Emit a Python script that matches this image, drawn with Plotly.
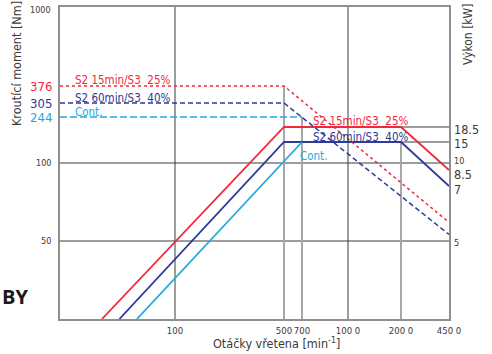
import numpy as np
import plotly.graph_objects as go

# ---------------- data ----------------
SERIES = ["S2 15min/S3  25%", "S2 60min/S3  40%", "Cont."]
TORQUE = [376, 305, 244]            # Nm, constant-torque level
BASE_SPEED = [500, 500, 700]        # min^-1, corner speed
POWER = [18.5, 15, 15]              # kW, constant-power level
RAMP_START_SPEED = [34, 44, 57]     # min^-1, where power ramp leaves the chart bottom
CP_END_SPEED = 2000                 # end of constant power (S2 curves)
MAX_SPEED = 4500
POWER_AT_MAX = [8.5, 7]             # kW at max speed (S2 curves)
TORQUE_AT_MAX = [59, 53]            # Nm at max speed (S2 curves, schematic)

SPEED_MIN = 18.3
TORQUE_MIN, TORQUE_MAX = 25, 1000
POWER_MIN, POWER_MAX = 2.5, 100

X_TICK_VALS = [100, 500, 700, 1000, 2000, 4500]
X_TICK_TEXT = ["100", "500", "700", "100 0", "200 0", "450 0"]
T_TICK_VALS = [50, 100, 244, 305, 376, 1000]
P_TICK_VALS = [5, 7, 8.5, 10, 15, 18.5]
P_TICK_TEXT = ["5", "7", "8.5", "10", "15", "18.5"]

# ------------- schematic scale of the drawing (chart units) -------------
X_TICK_POS = [175, 284, 302, 348, 401, 449]
T_TICK_POS = [241, 163, 117, 103, 86, 7]
P_TICK_POS = [241, 186, 170, 163, 142, 127]


def log_scale(vals, pos):
    lv = np.log10(np.asarray(vals, float))
    p = np.asarray(pos, float)
    s0 = (p[1] - p[0]) / (lv[1] - lv[0])
    s1 = (p[-1] - p[-2]) / (lv[-1] - lv[-2])

    def f(v):
        x = np.log10(np.asarray(v, float))
        out = np.interp(x, lv, p)
        out = np.where(x < lv[0], p[0] + s0 * (x - lv[0]), out)
        out = np.where(x > lv[-1], p[-1] + s1 * (x - lv[-1]), out)
        return out
    return f


sx = log_scale(X_TICK_VALS, X_TICK_POS)
st = log_scale(T_TICK_VALS, T_TICK_POS)
# power grid = torque grid / 10
sp = log_scale([POWER_MIN] + P_TICK_VALS + [POWER_MAX],
               [float(st(TORQUE_MIN))] + P_TICK_POS + [float(st(TORQUE_MAX))])

RED, BLUE, CYAN = "#f2283c", "#2d3a98", "#22a9e1"
COLORS = [RED, BLUE, CYAN]
DARK = "#3a3a3a"
GREY = "#a8a8a8"
FONT = "Liberation Sans Narrow, DejaVu Sans Condensed, Arial Narrow, sans-serif"

fig = go.Figure()

X0, X1 = float(sx(SPEED_MIN)), float(sx(MAX_SPEED))
Y0, Y1 = float(st(TORQUE_MIN)), float(st(TORQUE_MAX))

shapes = []
# dark grid lines
for t in [100, 50]:
    shapes.append(dict(type="line", x0=X0, x1=X1, y0=float(st(t)), y1=float(st(t)),
                       line=dict(color=DARK, width=1), layer="below"))
for n in [100, 1000]:
    shapes.append(dict(type="line", x0=float(sx(n)), x1=float(sx(n)), y0=Y0, y1=Y1,
                       line=dict(color=DARK, width=1), layer="below"))
for p in [POWER[0], POWER[1]]:
    shapes.append(dict(type="line", x0=float(sx(CP_END_SPEED)), x1=X1,
                       y0=float(sp(p)), y1=float(sp(p)),
                       line=dict(color=DARK, width=1), layer="below"))
# grey speed markers
for n, ytop in [(500, float(st(TORQUE[0]))), (700, float(st(TORQUE[2]))),
                (CP_END_SPEED, float(sp(POWER[1])))]:
    shapes.append(dict(type="line", x0=float(sx(n)), x1=float(sx(n)), y0=Y0, y1=ytop,
                       line=dict(color=GREY, width=2), layer="below"))

# power curves (solid)
pw_speeds = [
    [RAMP_START_SPEED[0], BASE_SPEED[0], CP_END_SPEED, MAX_SPEED],
    [RAMP_START_SPEED[1], BASE_SPEED[1], CP_END_SPEED, MAX_SPEED],
    [RAMP_START_SPEED[2], BASE_SPEED[2]],
]
pw_vals = [
    [POWER_MIN, POWER[0], POWER[0], POWER_AT_MAX[0]],
    [POWER_MIN, POWER[1], POWER[1], POWER_AT_MAX[1]],
    [POWER_MIN, POWER[2]],
]
for i in range(3):
    fig.add_trace(go.Scatter(x=sx(pw_speeds[i]), y=sp(pw_vals[i]), mode="lines",
                             line=dict(color=COLORS[i], width=1.8),
                             hoverinfo="skip", showlegend=False))

# torque curves (dashed)
tq_speeds = [
    [SPEED_MIN, BASE_SPEED[0], MAX_SPEED],
    [SPEED_MIN, BASE_SPEED[1], MAX_SPEED],
    [SPEED_MIN, BASE_SPEED[2]],
]
tq_vals = [
    [TORQUE[0], TORQUE[0], TORQUE_AT_MAX[0]],
    [TORQUE[1], TORQUE[1], TORQUE_AT_MAX[1]],
    [TORQUE[2], TORQUE[2]],
]
dashes = ["3px,3px", "5px,3px", "7px,3px"]
for i in range(3):
    fig.add_trace(go.Scatter(x=sx(tq_speeds[i]), y=st(tq_vals[i]), mode="lines",
                             line=dict(color=COLORS[i], width=1.5, dash=dashes[i]),
                             hoverinfo="skip", showlegend=False))

ann = []


def A(text, x, y, xref="x", yref="y", size=12, color=DARK, xanchor="left",
      yanchor="middle", xshift=0, yshift=0, angle=0, bold=False, family=FONT):
    ann.append(dict(text=("<b>%s</b>" % text) if bold else text, x=x, y=y,
                    xref=xref, yref=yref, showarrow=False,
                    font=dict(size=size, color=color, family=family),
                    xanchor=xanchor, yanchor=yanchor, xshift=xshift, yshift=yshift,
                    textangle=angle))


def nb(s):
    return s.replace(" ", "\u00a0")


LBL = 11.5
# series labels at left
shifts_left = [6, 5, 5]
for i in range(3):
    A(nb(SERIES[i]), 0, float(st(TORQUE[i])), xref="paper", size=LBL, color=COLORS[i],
      xshift=13, yshift=shifts_left[i])
# series labels at right
A(nb(SERIES[0]), float(sx(700)), float(sp(POWER[0])), size=LBL, color=RED, xshift=9, yshift=6)
A(nb(SERIES[1]), float(sx(700)), float(sp(POWER[1])), size=LBL, color=BLUE, xshift=9, yshift=5)
A(nb(SERIES[2]), float(sx(700)), float(sp(POWER[2])), size=LBL, color=CYAN, xshift=-4, yshift=-14)

# left axis labels
for v in [1000, 100, 50]:
    A(str(v), 0, float(st(v)), xref="paper", size=9, xanchor="right", xshift=-7,
      yshift=(-3 if v == 1000 else 0))
for i in range(3):
    A(str(TORQUE[i]), 0, float(st(TORQUE[i])), xref="paper", size=13, color=COLORS[i],
      xanchor="right", xshift=-6)

# right axis labels
rshift = {"5": -2, "7": -3, "8.5": -4, "10": 2, "15": -1, "18.5": -2}
for v, t in zip(P_TICK_VALS, P_TICK_TEXT):
    small = t in ("5", "10")
    A(t, 1, float(sp(v)), xref="paper", size=(9 if small else 12.5), xanchor="left",
      xshift=3, yshift=rshift[t])

# axis titles (positioned relative to plot edges)
A("Kroutící moment [Nm]", 0, 1, xref="paper", yref="paper", size=12.5,
  xanchor="center", angle=-90, xshift=16 - 60, yshift=-(64 - 7))
A("Výkon [kW]", 1, 1, xref="paper", yref="paper", size=12, xanchor="center",
  angle=-90, xshift=468 - 449, yshift=-(34 - 7))
A("Otáčky vřetena [min<sup>-1</sup>]", 0, 0, xref="paper", yref="paper", size=12.5,
  xanchor="center", yanchor="middle", xshift=276 - 60, yshift=-(343 - 319))
A("BY", 0, 0, xref="paper", yref="paper", size=20, color="#1a1a1a",
  xanchor="left", xshift=-60, yshift=319 - 296, bold=True,
  family="Open Sans, Liberation Sans, sans-serif")

fig.update_layout(
    width=492, height=354,
    margin=dict(l=60, r=43, t=7, b=35, autoexpand=False),
    paper_bgcolor="white", plot_bgcolor="white",
    shapes=shapes, annotations=ann,
    xaxis=dict(range=[X0, X1], showgrid=False, zeroline=False, showline=True,
               mirror=True, linecolor="#8f8f8f", linewidth=2, automargin=False,
               tickangle=0, tickvals=[float(v) for v in sx(X_TICK_VALS)],
               ticktext=X_TICK_TEXT, ticks="", ticklabelstandoff=2,
               tickfont=dict(size=9.5, color=DARK, family=FONT)),
    yaxis=dict(range=[Y0, Y1], showgrid=False, zeroline=False, showline=True,
               mirror=True, linecolor="#8f8f8f", linewidth=2, showticklabels=False,
               ticks="", automargin=False),
    font=dict(family=FONT),
)

fig.write_html("out.html",
               config={"displayModeBar": False, "staticPlot": True},
               post_script="document.body.style.margin='0px';"
                           "document.body.style.overflow='hidden';")
